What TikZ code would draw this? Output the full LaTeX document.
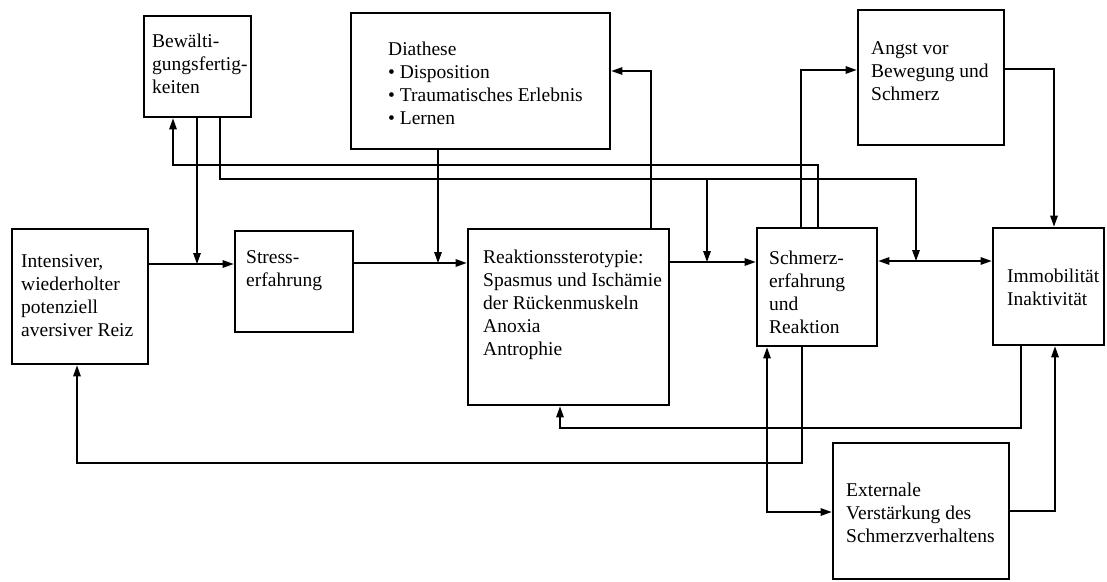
\documentclass[tikz,border=0pt]{standalone}
\usepackage{fontspec}
\setmainfont{Liberation Serif}
\usetikzlibrary{arrows.meta}
\begin{document}
\begin{tikzpicture}[x=1pt,y=-1pt,
  box/.style={draw, line width=2.7pt, rectangle, inner sep=0pt},
  txt/.style={anchor=north west, align=left, inner sep=0pt, font=\fontsize{19.5}{23}\selectfont},
  conn/.style={line width=1.4pt},
  arr/.style={conn, -{Triangle[length=11pt,width=7.5pt]}},
  barr/.style={conn, {Triangle[length=11pt,width=7.5pt]}-{Triangle[length=11pt,width=7.5pt]}}
]
\useasboundingbox (0,0) rectangle (1107,581);
\fill[white] (0,0) rectangle (1107,581);

% boxes
\node[box, minimum width=107pt, minimum height=101pt] (bew) at (197.5,66.5) {};
\node[box, minimum width=259pt, minimum height=136pt] (dia) at (480.5,81) {};
\node[box, minimum width=146pt, minimum height=135pt] (ang) at (931,77.5) {};
\node[box, minimum width=136pt, minimum height=135pt] (int) at (80,296.5) {};
\node[box, minimum width=118pt, minimum height=101pt] (stress) at (294,281.5) {};
\node[box, minimum width=201pt, minimum height=176pt] (rea) at (568.5,317) {};
\node[box, minimum width=120pt, minimum height=118pt] (sch) at (817,287) {};
\node[box, minimum width=111pt, minimum height=117pt] (imm) at (1048.5,286.5) {};
\node[box, minimum width=176pt, minimum height=136pt] (ext) at (921,511) {};

% texts
\node[txt] (bewt) at (152,32) {\rule{0pt}{15pt}Bewälti-\\gungsfertig-\\keiten};
\node[txt] (diat) at (388,40) {\rule{0pt}{15pt}Diathese\\• Disposition\\• Traumatisches Erlebnis\\• Lernen};
\node[txt] (angt) at (871,39) {\rule{0pt}{15pt}Angst vor\\Bewegung und\\Schmerz};
\node[txt] (intt) at (21,252) {\rule{0pt}{15pt}Intensiver,\\wiederholter\\potenziell\\aversiver Reiz};
\node[txt] (stresst) at (246,248) {\rule{0pt}{15pt}Stress-\\erfahrung};
\node[txt] (reat) at (483,248) {\rule{0pt}{15pt}Reaktionssterotypie:\\Spasmus und Ischämie\\der Rückenmuskeln\\Anoxia\\Antrophie};
\node[txt] (scht) at (769,249) {\rule{0pt}{15pt}Schmerz-\\erfahrung\\und\\Reaktion};
\node[txt] (immt) at (1007,267) {\rule{0pt}{15pt}Immobilität\\Inaktivität};
\node[txt] (extt) at (846,481) {\rule{0pt}{15pt}Externale\\Verstärkung des\\Schmerzverhaltens};

% waypoints
\coordinate (r264) at (0,264);
\coordinate (r263) at (0,263);
\coordinate (r262) at (0,262);
\coordinate (r261) at (0,261);
\coordinate (c1) at (173,165);
\coordinate (c2) at (818,165);
\coordinate (d1) at (220,179);
\coordinate (d2) at (916,179);
\coordinate (d3) at (707,179);
\coordinate (e1) at (438,263);
\coordinate (f1) at (197,264);
\coordinate (g1) at (651,71);
\coordinate (h1) at (801,70);
\coordinate (k1) at (1054,69);
\coordinate (m1) at (1021,428);
\coordinate (m2) at (560,428);
\coordinate (n1) at (1055,511);
\coordinate (p1) at (802,463);
\coordinate (p2) at (77,463);
\coordinate (q1) at (767,512);

% main row
\draw[arr] (int.east |- r264) -- (stress.west |- r264);
\draw[arr] (stress.east |- r263) -- (rea.west |- r263);
\draw[arr] (rea.east |- r262) -- (sch.west |- r262);
\draw[barr] (sch.east |- r261) -- (imm.west |- r261);

% from top boxes
\draw[arr] (bew.south -| f1) -- (f1);
\draw[arr] (dia.south -| e1) -- (e1);

% upper lane: Schmerz -> Bewaeltigung
\draw[arr] (sch.north -| c2) -- (c2) -- (c1) -- (bew.south -| c1);
% lower lane: Bewaeltigung -> rows
\draw[arr] (bew.south -| d1) -- (d1) -- (d2) -- (d2 |- r261);
\draw[arr] (d3) -- (d3 |- r262);

% Reaktion -> Diathese
\draw[arr] (rea.north -| g1) -- (g1) -- (dia.east |- g1);
% Schmerz -> Angst
\draw[arr] (sch.north -| h1) -- (h1) -- (ang.west |- h1);
% Angst -> Immobilitaet
\draw[arr] (ang.east |- k1) -- (k1) -- (imm.north -| k1);
% Immobilitaet -> Reaktion
\draw[arr] (imm.south -| m1) -- (m1) -- (m2) -- (rea.south -| m2);
% Externale -> Immobilitaet
\draw[arr] (ext.east |- n1) -- (n1) -- (imm.south -| n1);
% Schmerz -> Intensiver
\draw[arr] (sch.south -| p1) -- (p1) -- (p2) -- (int.south -| p2);
% Schmerz <-> Externale
\draw[barr] (sch.south -| q1) -- (q1) -- (ext.west |- q1);
\end{tikzpicture}
\end{document}
